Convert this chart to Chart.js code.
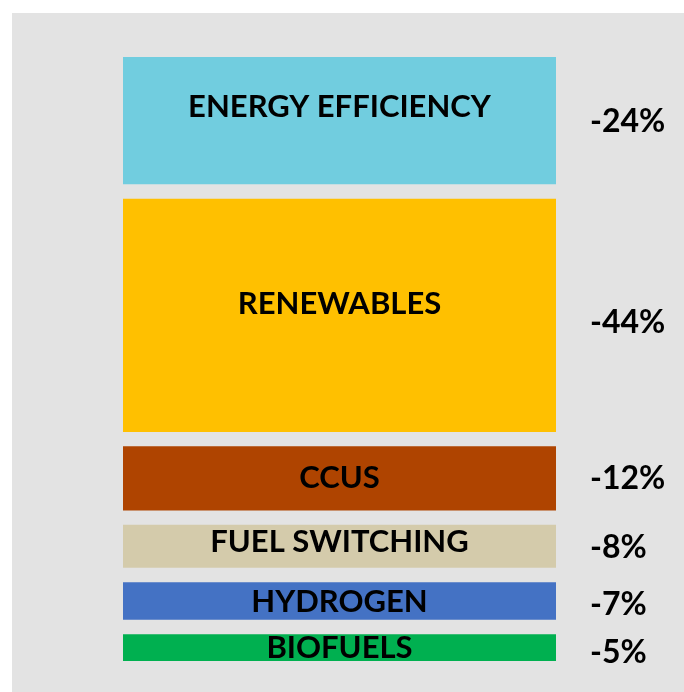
<!DOCTYPE html>
<html>
<head>
<meta charset="utf-8">
<script src="https://cdn.jsdelivr.net/npm/chart.js@4/dist/chart.umd.min.js"></script>
<style>
  body { margin: 0; background: #ffffff; }
  #wrap { position: absolute; left: 12px; top: 13px; width: 672px; height: 679px; background: #e3e3e3; }
</style>
</head>
<body>
<div id="wrap"><canvas id="Chart"></canvas></div>
<script>
// data
var categories = ['ENERGY EFFICIENCY', 'RENEWABLES', 'CCUS', 'FUEL SWITCHING', 'HYDROGEN', 'BIOFUELS'];
var shares = [24, 44, 12, 8, 7, 5];
var shareLabels = ['-24%', '-44%', '-12%', '-8%', '-7%', '-5%'];
var colors = ['#71cddf', '#ffc000', '#af4400', '#d4cbab', '#4472c4', '#00b050'];

var GAP = 2.84; // empty space between blocks, in % units

// build floating ranges top -> bottom
var datasets = [];
var pos = 0;
for (var i = 0; i < shares.length; i++) {
    datasets.push({
        label: categories[i],
        data: [[pos, pos + shares[i]]],
        backgroundColor: colors[i],
        borderWidth: 0,
        grouped: false,
        barPercentage: 1,
        categoryPercentage: 1
    });
    pos += shares[i] + GAP;
}
var total = pos - GAP;

// text inside blocks + percentages on the right
var labelPlugin = {
    id: 'blockLabels',
    afterDatasetsDraw: function (chart) {
        var ctx = chart.ctx;
        var nameShift = [-13, -11, 0, -4, 1, 0];
        var pctShift = [1, 7, 0, 1, 4, 5];
        ctx.save();
        ctx.fillStyle = '#000000';
        ctx.textBaseline = 'middle';
        chart.data.datasets.forEach(function (ds, i) {
            var bar = chart.getDatasetMeta(i).data[0];
            var cy = (bar.y + bar.base) / 2;
            ctx.font = 'bold 31px Lato';
            ctx.textAlign = 'center';
            ctx.fillText(ds.label, bar.x, cy + nameShift[i]);
            ctx.font = 'bold 32px Lato';
            ctx.textAlign = 'left';
            ctx.fillText(shareLabels[i], chart.chartArea.right + 34, cy + pctShift[i]);
        });
        ctx.restore();
    }
};

var context = document.getElementById('Chart').getContext('2d');

var myChart = new Chart(context, {
    type: 'bar',
    data: {
        labels: [''],
        datasets: datasets
    },
    options: {
        responsive: true,
        maintainAspectRatio: false,
        animation: false,
        layout: {
            padding: {left: 111, right: 128, top: 44, bottom: 31}
        },
        scales: {
            x: {display: false},
            y: {display: false, reverse: true, min: 0, max: total}
        },
        plugins: {
            legend: {display: false},
            tooltip: {enabled: false}
        }
    },
    plugins: [labelPlugin]
});
</script>
</body>
</html>
